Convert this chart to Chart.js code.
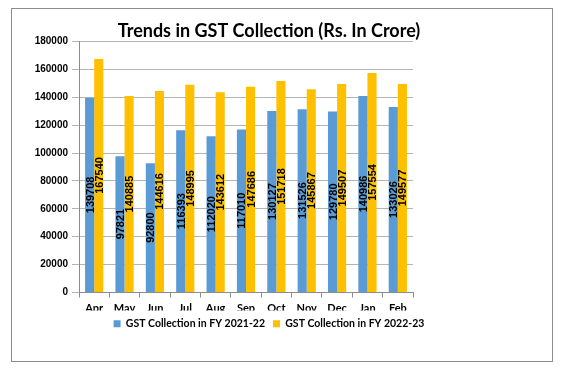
<!DOCTYPE html>
<html>
<head>
<meta charset="utf-8">
<title>Trends in GST Collection</title>
<script src="https://cdn.jsdelivr.net/npm/chart.js@4.4.0/dist/chart.umd.min.js"></script>
<style>
    html, body { margin: 0; padding: 0; background: #fff; }
    #card-chart {
        position: absolute;
        left: 11px; top: 8px;
        width: 542px; height: 354px;
        box-sizing: border-box;
        border: 1px solid #8c8c8c;
    }
</style>
</head>
<body>
<div id="card-chart"><canvas id="chartGst" width="540" height="352"></canvas></div>
<script>
// datos
const meses = ["Apr", "May", "Jun", "Jul", "Aug", "Sep", "Oct", "Nov", "Dec", "Jan", "Feb"];
const gst2122 = [139708, 97821, 92800, 116393, 112020, 117010, 130127, 131526, 129780, 140986, 133026];
const gst2223 = [167540, 140885, 144616, 148995, 143612, 147686, 151718, 145867, 149507, 157554, 149577];
const labelSerie1 = "GST Collection in FY 2021-22";
const labelSerie2 = "GST Collection in FY 2022-23";
const yMax = 180000, yStep = 20000;

const d = document;
const ctx = d.getElementById("chartGst");

//--------------------------------------------------------------------------------
// numeros verticales dentro de cada barra
const valoresBarras = {
    id: "valoresBarras",
    afterDatasetsDraw: (chart) => {
        const c = chart.ctx;
        c.save();
        c.font = "bold 11px 'Liberation Sans', Arial, sans-serif";
        c.fillStyle = "#000";
        c.textAlign = "center";
        c.textBaseline = "middle";
        chart.data.datasets.forEach((ds, i) => {
            chart.getDatasetMeta(i).data.forEach((bar, j) => {
                const midY = (bar.y + bar.base) / 2;
                c.save();
                c.translate(bar.x, midY);
                c.rotate(-Math.PI / 2);
                c.fillText(String(ds.data[j]), 0, 1);
                c.restore();
            });
        });
        c.restore();
    }
};

const chartGst = new Chart(ctx, {
    type: "bar",
    data: {
        labels: meses,
        datasets: [
            {
                label: labelSerie1,
                data: gst2122,
                backgroundColor: "#5b9bd5",
                categoryPercentage: 0.6,
                barPercentage: 1.0,
            },
            {
                label: labelSerie2,
                data: gst2223,
                backgroundColor: "#ffc000",
                categoryPercentage: 0.6,
                barPercentage: 1.0,
            },
        ],
    },
    options: {
        responsive: false,
        animation: false,
        layout: {
            padding: { left: 0, right: 26, top: 0, bottom: 22 },
        },
        plugins: {
            title: {
                display: true,
                text: "Trends in GST Collection (Rs. In Crore)",
                color: "#000",
                font: { family: "Lato", size: 18, weight: "bold" },
                padding: { top: 11, bottom: 0 },
            },
            legend: {
                position: "bottom",
                labels: {
                    boxWidth: 7,
                    boxHeight: 7,
                    padding: 8,
                    color: "#000",
                    font: { family: "Lato", size: 10.5, weight: "bold" },
                },
            },
            tooltip: { enabled: false },
        },
        scales: {
            x: {
                grid: {
                    drawOnChartArea: false,
                    tickLength: 5,
                    color: "#8c8c8c",
                },
                border: { color: "#8c8c8c" },
                ticks: {
                    padding: 4,
                    color: "#000",
                    font: { family: "Lato", size: 11, weight: "bold" },
                },
                afterFit: (s) => { s.height = 18; },
            },
            y: {
                min: 0,
                max: yMax,
                ticks: {
                    stepSize: yStep,
                    padding: 4,
                    color: "#000",
                    font: { family: "'Liberation Sans', Arial", size: 10, weight: "bold" },
                    callback: (v) => String(v),
                },
                grid: { color: "#b4b4b4", tickLength: 7 },
                border: { color: "#8c8c8c" },
                afterFit: (s) => { s.width = 67; },
            },
            // eje vacio para dejar el hueco blanco de la derecha
            relleno: {
                type: "linear",
                position: "right",
                min: 0,
                max: 1,
                grid: { display: false },
                border: { display: false },
                ticks: { display: false },
                afterFit: (s) => { s.width = 113; },
            },
        },
    },
    plugins: [valoresBarras],
});
</script>
</body>
</html>
